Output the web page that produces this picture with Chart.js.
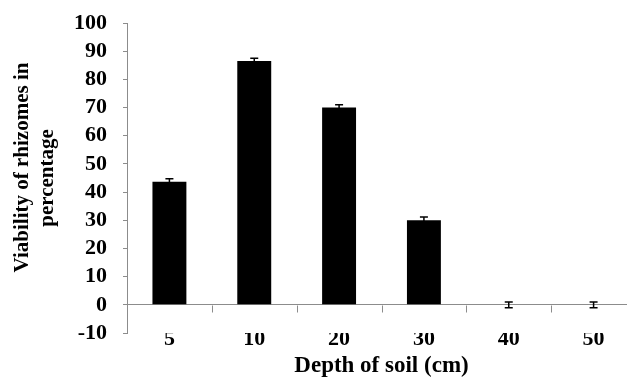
<!DOCTYPE html>
<html>
<head>
<meta charset="utf-8">
<style>
  html, body { margin: 0; padding: 0; background: #fff; overflow: hidden; }
  #wrap { width: 636px; height: 382px; }
</style>
<script src="https://cdn.jsdelivr.net/npm/chart.js@4"></script>
</head>
<body>
<div id="wrap"><canvas id="c" width="636" height="382"></canvas></div>
<script>
const categories = ["5", "10", "20", "30", "40", "50"];
const viability = [43.7, 86.5, 70.0, 30.0, 0, 0];
const errors = [1.0, 1.0, 1.0, 1.2, 1.0, 1.0];
const yTitle = ["    Viability of rhizomes in", "percentage"];
const xTitle = "Depth of soil (cm)";

const FONT = "'Liberation Serif', 'Times New Roman', serif";
const AXIS_GRAY = "#8c8c8c";

const errorBarPlugin = {
  id: "errorBars",
  afterDatasetsDraw(chart) {
    const ctx = chart.ctx;
    const meta = chart.getDatasetMeta(0);
    const ys = chart.scales.y;
    ctx.save();
    ctx.strokeStyle = "#000";
    ctx.lineWidth = 1.5;
    meta.data.forEach((bar, i) => {
      const v = viability[i], e = errors[i];
      const x = bar.x;
      const yt = ys.getPixelForValue(v + e);
      const yb = ys.getPixelForValue(v - e);
      ctx.beginPath();
      ctx.moveTo(x, yt); ctx.lineTo(x, yb);
      ctx.moveTo(x - 4, yt); ctx.lineTo(x + 4, yt);
      ctx.moveTo(x - 4, yb); ctx.lineTo(x + 4, yb);
      ctx.stroke();
    });
    ctx.restore();
  }
};

const zeroAxisTicks = {
  id: "zeroAxisTicks",
  afterDraw(chart) {
    const ctx = chart.ctx;
    const xs = chart.scales.x, ys = chart.scales.y;
    const y0 = Math.round(ys.getPixelForValue(0)) + 0.5;
    ctx.save();
    ctx.strokeStyle = AXIS_GRAY;
    ctx.lineWidth = 1;
    ctx.beginPath();
    for (let i = 1; i < categories.length; i++) {
      const xb = Math.round((xs.getPixelForValue(i - 1) + xs.getPixelForValue(i)) / 2) + 0.5;
      ctx.moveTo(xb, y0); ctx.lineTo(xb, y0 + 7);
    }
    ctx.stroke();
    ctx.restore();
  }
};

new Chart(document.getElementById("c"), {
  type: "bar",
  data: {
    labels: categories,
    datasets: [{
      data: viability,
      backgroundColor: "#000",
      borderColor: "#000",
      borderWidth: 0,
      barPercentage: 0.4,
      categoryPercentage: 1.0
    }]
  },
  options: {
    responsive: false,
    animation: false,
    devicePixelRatio: 1,
    layout: { padding: { top: 23, right: 0, left: 10, bottom: 0 } },
    plugins: { legend: { display: false }, tooltip: { enabled: false } },
    scales: {
      x: {
        grid: { display: false },
        border: { display: false },
        ticks: { color: "#000", font: { family: FONT, size: 22, weight: "bold" }, padding: -15, autoSkip: false, maxRotation: 0 },
        title: {
          display: true, text: xTitle, color: "#000",
          font: { family: FONT, size: 23, weight: "bold" },
          padding: { top: 0, bottom: 2 }
        },
        afterFit(s) { s.height = 49; s.paddingLeft = 0; s.paddingRight = 0; }
      },
      y: {
        min: -10, max: 100,
        ticks: { stepSize: 10, autoSkip: false, color: "#000", font: { family: FONT, size: 22, weight: "bold" }, padding: 16 },
        grid: {
          color: ctx => (ctx.tick && ctx.tick.value === 0 ? AXIS_GRAY : "rgba(0,0,0,0)"),
          tickColor: AXIS_GRAY,
          tickLength: 4,
          lineWidth: 1
        },
        border: { display: true, color: AXIS_GRAY, width: 1 },
        title: {
          display: true, text: yTitle, color: "#000",
          font: { family: FONT, size: 21, weight: "bold", lineHeight: 1.2 },
          padding: { top: 0, bottom: 0 }
        },
        afterFit(s) { s.width = 127 - 10; s.paddingTop = 0; s.paddingBottom = 0; }
      }
    }
  },
  plugins: [errorBarPlugin, zeroAxisTicks]
});
</script>
</body>
</html>
